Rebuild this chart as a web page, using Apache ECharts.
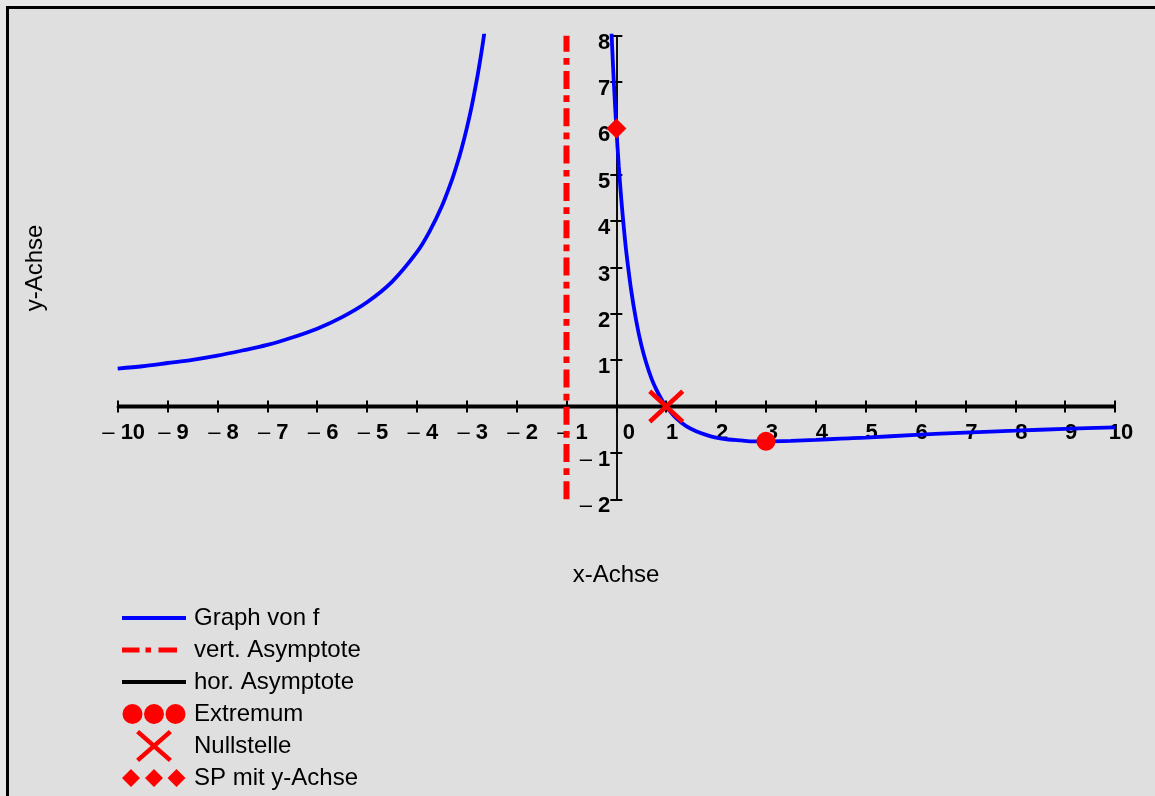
<!DOCTYPE html>
<html><head><meta charset="utf-8">
<script src="https://cdn.jsdelivr.net/npm/echarts@6/dist/echarts.min.js"></script>
<style>
html,body{margin:0;padding:0;background:#e6e6e6;width:1155px;height:796px;overflow:hidden;}
#frame{position:absolute;left:6px;top:6px;width:1149px;height:790px;border-top:3px solid #000;border-left:3px solid #000;box-sizing:border-box;background:#dfdfdf;}
#chart{position:absolute;left:0;top:0;width:1146px;height:787px;}
</style></head><body>
<div id="frame"><div id="chart"></div></div>
<script>
// ---- data ----
const xTicks = [-10,-9,-8,-7,-6,-5,-4,-3,-2,-1,0,1,2,3,4,5,6,7,8,9,10];
const yTicks = [-2,-1,0,1,2,3,4,5,6,7,8];
// left branch of the graph of f
const leftX = [-10,-9.5,-9,-8.5,-8,-7.5,-7,-6.5,-6,-5.5,-5,-4.5,-4,-3.75,-3.5,-3.3,-3.2,-3.1,-3,-2.9,-2.8,-2.75,-2.7,-2.65,-2.6];
const leftY = [0.82,0.87,0.94,1.01,1.10,1.21,1.33,1.49,1.68,1.93,2.25,2.69,3.33,3.77,4.32,4.88,5.21,5.58,6.00,6.48,7.04,7.35,7.68,8.04,8.44];
// right branch of the graph of f
const rightX = [-0.12,-0.1,-0.08,-0.05,0,0.05,0.1,0.15,0.2,0.3,0.4,0.5,0.6,0.7,0.8,0.9,1,1.2,1.4,1.6,1.8,2,2.25,2.5,2.75,3,3.5,4,4.5,5,6,7,8,9,10];
const rightY = [8.68,8.15,7.66,6.98,6.00,5.17,4.46,3.86,3.33,2.49,1.84,1.33,0.94,0.62,0.37,0.17,0,-0.25,-0.42,-0.53,-0.61,-0.67,-0.71,-0.73,-0.75,-0.75,-0.74,-0.72,-0.69,-0.67,-0.61,-0.56,-0.52,-0.48,-0.45];
const vertAsymX = -1;
const horAsymY = 0;
const extremumPt = [3, -0.75];
const nullstellePt = [1, 0];
const spYPt = [0, 6];
const legendNames = ['Graph von f','vert. Asymptote','hor. Asymptote','Extremum','Nullstelle','SP mit y-Achse'];
const axisTitles = ['x-Achse','y-Achse'];

// ---- chart ----
const FONT = '"Liberation Sans", Arial, Helvetica, sans-serif';
const zip = (xs, ys) => xs.map((x, i) => [x, ys[i]]);
const MINUS = '\u2013';
const W = 1146, H = 787;
const G = {left: 108.7, right: 40, top: 26.7, bottom: 296.7};
const gridW = W - G.left - G.right, gridH = H - G.top - G.bottom;
const xMin = xTicks[0], xMax = xTicks[xTicks.length - 1];
const yMin = yTicks[0], yMax = yTicks[yTicks.length - 1];
// move the axes from the grid edge onto the other axis' zero
const xOff = -gridH * (0 - yMin) / (yMax - yMin);
const yOff = -gridW * (0 - xMin) / (xMax - xMin);

function tickFmt(v, zeroText) {
  if (v === 0) return zeroText;
  if (v < 0) return '{m|' + MINUS + '} {b|' + (-v) + '}';
  return '{b|' + v + '}';
}
const LS = 22;
const rich = {
  m: {fontSize: LS, fontWeight: 'normal', color: '#000', fontFamily: FONT},
  b: {fontSize: LS, fontWeight: 'bold', color: '#000', fontFamily: FONT},
  z: {fontSize: LS, fontWeight: 'bold', color: '#000', fontFamily: FONT, padding: [0, 0, 0, 13]}
};
const tickStyle = {color: '#000', width: 2};
const xBase = {type: 'value', min: xMin, max: xMax, interval: 1, position: 'bottom', offset: xOff,
  splitLine: {show: false}};
const yBase = {type: 'value', min: yMin, max: yMax, interval: 1, position: 'left', offset: yOff,
  splitLine: {show: false}};

const xPathX = 'M14.1,3.3L17.1,0L49.9,28.7L46.9,32Z M49.9,3.3L17.1,32L14.1,28.7L46.9,0Z';
const diamondPath = 'path://M9,0L18,9L9,18L0,9Z';
const FRAME = 'M0,0M64,32';
const icons = {
  line: 'path://' + FRAME + 'M0,14H64V18H0Z',
  dashdot: 'path://' + FRAME + 'M0,13.6H17.5V18.4H0Z M23.5,13.6H29V18.4H23.5Z M36.5,13.6H55V18.4H36.5Z',
  circles: 'path://' + FRAME + 'M0.5,16A10,10 0 1 1 20.5,16A10,10 0 1 1 0.5,16Z M22,16A10,10 0 1 1 42,16A10,10 0 1 1 22,16Z M43.5,16A10,10 0 1 1 63.5,16A10,10 0 1 1 43.5,16Z',
  cross: 'path://' + FRAME + xPathX,
  diamonds: 'path://' + FRAME + 'M9,7L18,16L9,25L0,16Z M32,7L41,16L32,25L23,16Z M54.5,7L63.5,16L54.5,25L45.5,16Z'
};
const RED = '#ff0000';

const chart = echarts.init(document.getElementById('chart'), null, {renderer: 'canvas'});
chart.setOption({
  animation: false,
  backgroundColor: '#dfdfdf',
  grid: {left: G.left, right: G.right, top: G.top, bottom: G.bottom, containLabel: false},
  xAxis: [
    Object.assign({}, xBase, {
      axisLine: {show: true, onZero: false, lineStyle: {color: '#000', width: 2}},
      axisTick: {show: true, inside: false, length: 6, lineStyle: tickStyle},
      axisLabel: {show: true, margin: 15, color: '#000', fontSize: LS, fontWeight: 'bold', fontFamily: FONT,
        padding: [0, 0, 0, 12], formatter: v => tickFmt(v, '{z|0}'), rich: rich}
    }),
    Object.assign({}, xBase, {
      axisLine: {show: true, onZero: false, lineStyle: {color: '#000', width: 2}},
      axisTick: {show: true, inside: true, length: 6, lineStyle: tickStyle},
      axisLabel: {show: false}
    })
  ],
  yAxis: [
    Object.assign({}, yBase, {
      axisLine: {show: true, onZero: false, lineStyle: {color: '#000', width: 1.5}},
      axisTick: {show: true, inside: false, length: 6, lineStyle: tickStyle},
      axisLabel: {show: true, margin: 6, color: '#000', fontSize: LS, fontWeight: 'bold', fontFamily: FONT,
        padding: [14, 0, 0, 0], formatter: v => tickFmt(v, ''), rich: rich}
    }),
    Object.assign({}, yBase, {
      axisLine: {show: true, onZero: false, lineStyle: {color: '#000', width: 1.5}},
      axisTick: {show: true, inside: true, length: 6, lineStyle: tickStyle},
      axisLabel: {show: false}
    })
  ],
  legend: {
    orient: 'vertical', left: 113, top: 593, padding: 0, itemGap: 0,
    itemWidth: 64, itemHeight: 32, selectedMode: false,
    itemStyle: {borderWidth: 0, opacity: 1},
    textStyle: {fontSize: 24, color: '#000', fontFamily: FONT, padding: [0, 0, 0, 3]},
    data: [
      {name: legendNames[0], icon: icons.line, itemStyle: {color: '#0000ff', borderWidth: 0, opacity: 1}},
      {name: legendNames[1], icon: icons.dashdot, itemStyle: {color: RED, borderWidth: 0, opacity: 1}},
      {name: legendNames[2], icon: icons.line, itemStyle: {color: '#000000', borderWidth: 0, opacity: 1}},
      {name: legendNames[3], icon: icons.circles, itemStyle: {color: RED, borderWidth: 0, opacity: 1}},
      {name: legendNames[4], icon: icons.cross, itemStyle: {color: RED, borderWidth: 0, opacity: 1}},
      {name: legendNames[5], icon: icons.diamonds, itemStyle: {color: RED, borderWidth: 0, opacity: 1}}
    ]
  },
  graphic: [
    {type: 'text', x: 607, y: 566, silent: true,
      style: {text: axisTitles[0], font: '24px ' + FONT, fill: '#000', align: 'center', verticalAlign: 'middle'}},
    {type: 'text', x: 26, y: 259, rotation: Math.PI / 2, silent: true,
      style: {text: axisTitles[1], font: '24px ' + FONT, fill: '#000', align: 'center', verticalAlign: 'middle'}}
  ],
  series: [
    {name: legendNames[2], type: 'line', color: '#000000', symbol: 'none', silent: true,
      data: [[xMin, horAsymY], [xMax, horAsymY]],
      lineStyle: {color: '#000', width: 4}},
    {name: legendNames[1], type: 'line', color: RED, symbol: 'none', silent: true,
      data: [[vertAsymX, yMin], [vertAsymX, yMax]],
      lineStyle: {color: RED, width: 6, type: [18, 6.3, 6.7, 6.3], cap: 'butt'}},
    {name: legendNames[0], type: 'line', color: '#0000ff', symbol: 'none', silent: true, smooth: 0.3,
      data: zip(leftX, leftY), lineStyle: {color: '#0000ff', width: 3.8}},
    {name: legendNames[0], type: 'line', color: '#0000ff', symbol: 'none', silent: true, smooth: 0.3,
      data: zip(rightX, rightY), lineStyle: {color: '#0000ff', width: 3.8}},
    {name: legendNames[3], type: 'scatter', silent: true, symbol: 'circle', symbolSize: 19, z: 5,
      itemStyle: {color: RED, opacity: 1}, data: [extremumPt]},
    {name: legendNames[4], type: 'scatter', silent: true, symbol: 'path://' + xPathX, symbolSize: [36, 34], z: 5,
      itemStyle: {color: RED, opacity: 1}, data: [nullstellePt]},
    {name: legendNames[5], type: 'scatter', silent: true, symbol: diamondPath, symbolSize: 20, z: 5,
      itemStyle: {color: RED, opacity: 1}, data: [spYPt]}
  ]
});
</script>
</body></html>
